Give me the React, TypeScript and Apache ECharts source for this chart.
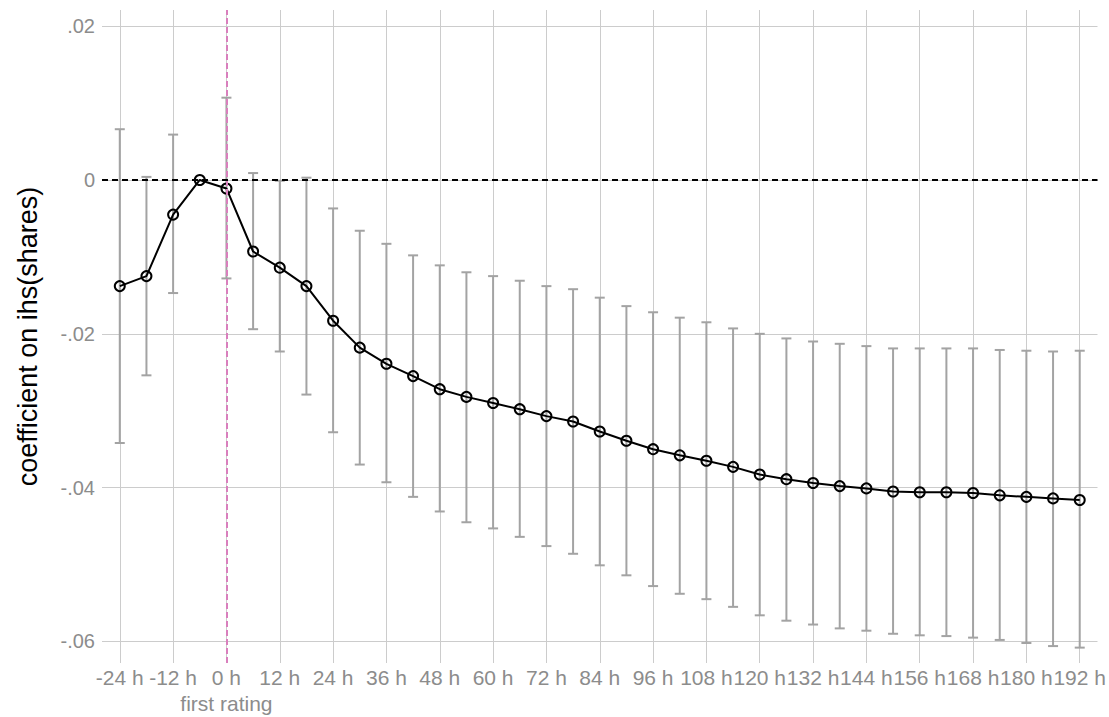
import { useEffect, useRef } from 'react';
import * as echarts from 'echarts';

const hours = [
  -24, -18, -12, -6, 0, 6, 12, 18, 24, 30, 36, 42, 48, 54, 60, 66, 72, 78, 84, 90,
  96, 102, 108, 114, 120, 126, 132, 138, 144, 150, 156, 162, 168, 174, 180, 186, 192,
];
const coef = [
  -0.0138, -0.0125, -0.0045, 0, -0.0011, -0.0093, -0.0114, -0.0138, -0.0183, -0.0218,
  -0.0239, -0.0255, -0.0272, -0.0282, -0.029, -0.0298, -0.0307, -0.0314, -0.0327, -0.0339,
  -0.035, -0.0358, -0.0365, -0.0373, -0.0383, -0.0389, -0.0394, -0.0398, -0.0401, -0.0405,
  -0.0406, -0.0406, -0.0407, -0.041, -0.0412, -0.0414, -0.0416,
];
const upper = [
  0.0066, 0.0004, 0.0059, null, 0.0107, 0.0009, -0.0001, 0.0003, -0.0037, -0.0066,
  -0.0083, -0.0098, -0.0111, -0.012, -0.0125, -0.0131, -0.0138, -0.0142, -0.0153, -0.0164,
  -0.0172, -0.0179, -0.0185, -0.0193, -0.02, -0.0206, -0.021, -0.0213, -0.0216, -0.0219,
  -0.0219, -0.0219, -0.0219, -0.0221, -0.0222, -0.0223, -0.0222,
];
const lower = [
  -0.0342, -0.0254, -0.0147, null, -0.0128, -0.0194, -0.0223, -0.0279, -0.0328, -0.037,
  -0.0393, -0.0412, -0.0431, -0.0445, -0.0453, -0.0464, -0.0476, -0.0486, -0.0501, -0.0514,
  -0.0528, -0.0538, -0.0545, -0.0555, -0.0566, -0.0573, -0.0578, -0.0583, -0.0586, -0.059,
  -0.0592, -0.0593, -0.0595, -0.0598, -0.0602, -0.0606, -0.0608,
];
const xTicks = [-24, -12, 0, 12, 24, 36, 48, 60, 72, 84, 96, 108, 120, 132, 144, 156, 168, 180, 192];
const yTicks = [-0.06, -0.04, -0.02, 0, 0.02];
const eventHour = 0;
const eventLabel = 'first rating';
const yTitle = 'coefficient on ihs(shares)';

const FONT = '"Liberation Sans", Arial, Helvetica, sans-serif';
const TICK_GRAY = '#8c8c8c';

export default function App() {
  const ref = useRef<HTMLDivElement>(null);

  useEffect(() => {
    if (!ref.current) return;
    const chart = echarts.init(ref.current, undefined, { renderer: 'svg' });

    const barData = hours
      .map((h, i) => (upper[i] == null || lower[i] == null ? null : [h, lower[i], upper[i]]))
      .filter((d) => d !== null);
    const lineData = hours.map((h, i) => [h, coef[i]]);

    const yFmt = (v: number) => {
      if (Math.abs(v) < 1e-9) return '0';
      const s = Math.abs(v).toFixed(2).replace(/^0/, '');
      return (v < 0 ? '-' : '') + s;
    };

    chart.setOption({
      animation: false,
      backgroundColor: '#ffffff',
      textStyle: { fontFamily: FONT },
      grid: { left: 102, right: 11, top: 10, bottom: 54, containLabel: false },
      xAxis: {
        type: 'value',
        min: -28,
        max: 196,
        axisLine: { show: false },
        axisTick: { show: false, customValues: xTicks },
        axisLabel: {
          customValues: xTicks,
          color: TICK_GRAY,
          fontSize: 21,
          fontFamily: FONT,
          lineHeight: 26,
          margin: 1,
          formatter: (v: number) => (v === eventHour ? `${v} h\n${eventLabel}` : `${v} h`),
        },
        splitLine: { show: true, lineStyle: { color: '#cccccc', width: 1 } },
      },
      yAxis: {
        type: 'value',
        min: -0.0628,
        max: 0.0221,
        name: yTitle,
        nameLocation: 'middle',
        nameGap: 61,
        nameTextStyle: { color: '#000000', fontSize: 27, fontFamily: FONT },
        axisLine: { show: false },
        axisTick: { show: false, customValues: yTicks },
        axisLabel: {
          customValues: yTicks,
          color: TICK_GRAY,
          fontSize: 20,
          fontFamily: FONT,
          margin: 7,
          formatter: yFmt,
        },
        splitLine: { show: true, lineStyle: { color: '#cccccc', width: 1 } },
      },
      series: [
        {
          type: 'line',
          data: [],
          z: 1,
          silent: true,
          markLine: {
            silent: true,
            symbol: ['none', 'none'],
            label: { show: false },
            lineStyle: { color: '#d97fbd', type: [6, 3], width: 2 },
            data: [{ xAxis: eventHour }],
          },
        },
        {
          type: 'custom',
          z: 2,
          silent: true,
          data: barData,
          encode: { x: 0, y: [1, 2] },
          renderItem: (params: any, api: any) => {
            const x = api.value(0);
            const lo = api.value(1);
            const hi = api.value(2);
            const pHi = api.coord([x, hi]);
            const pLo = api.coord([x, lo]);
            const hw = 5;
            const style = { stroke: '#a3a3a3', lineWidth: 2, fill: null };
            return {
              type: 'group',
              children: [
                { type: 'line', shape: { x1: pHi[0], y1: pHi[1], x2: pLo[0], y2: pLo[1] }, style },
                { type: 'line', shape: { x1: pHi[0] - hw, y1: pHi[1], x2: pHi[0] + hw, y2: pHi[1] }, style },
                { type: 'line', shape: { x1: pLo[0] - hw, y1: pLo[1], x2: pLo[0] + hw, y2: pLo[1] }, style },
              ],
            };
          },
        },
        {
          type: 'line',
          z: 3,
          data: lineData,
          symbol: 'circle',
          symbolSize: 10,
          itemStyle: { color: 'rgba(255,255,255,0)', borderColor: '#000000', borderWidth: 2 },
          lineStyle: { color: '#000000', width: 2 },
          markLine: {
            silent: true,
            symbol: ['none', 'none'],
            label: { show: false },
            lineStyle: { color: '#000000', type: [6, 4], width: 2 },
            data: [{ yAxis: 0 }],
          },
        },
      ],
    });

    return () => chart.dispose();
  }, []);

  return (
    <div
      ref={ref}
      style={{ position: 'fixed', left: 0, top: 0, width: 1109, height: 717, background: '#fff' }}
    />
  );
}
